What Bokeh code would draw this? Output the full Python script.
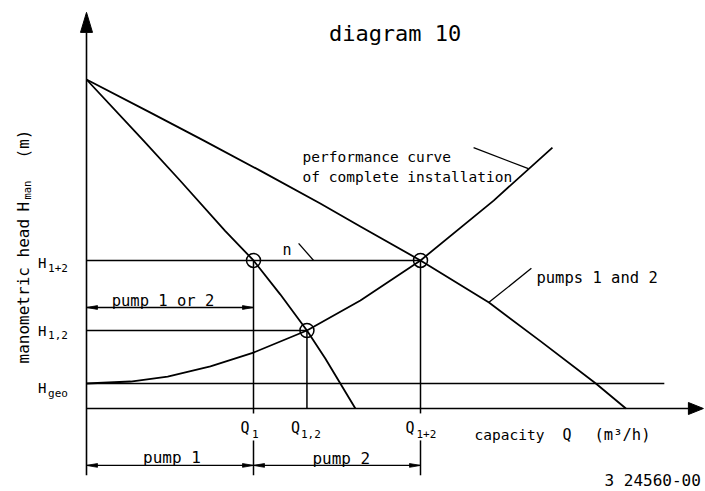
import math

from bokeh.core.properties import value
from bokeh.embed import file_html
from bokeh.models import Range1d
from bokeh.plotting import figure
from bokeh.resources import INLINE

# Schematic units: capacity Q scaled so that Q(1+2) = 100,
# manometric head scaled so that the shut-off head = 100.

# single pump characteristic ("n")
single_q = [0, 17, 28, 41.5, 50, 58, 66, 71.5, 80.5]
single_h = [100, 81.5, 69.3, 54, 45, 34.7, 23.7, 15.2, 0]

# pumps 1 and 2 running in parallel
parallel_q = [0, 19, 35, 52, 70, 82, 100, 120.5, 136, 152.5, 161.5]
parallel_h = [100, 90, 81.5, 72.3, 62.3, 55.3, 45, 32.2, 20.4, 7.6, 0]

# performance curve of the complete installation (system curve)
system_q = [0, 13.2, 24.3, 37.1, 50, 66, 82, 100, 121.9, 139.5]
system_h = [7.6, 8.2, 9.7, 12.8, 17.0, 23.7, 32.8, 45.0, 63.2, 79.3]

# operating points
H_GEO = 7.6
H_PAR = 45.0     # H 1+2
H_ONE = 23.7     # H 1,2
Q_ONE = 50       # Q 1
Q_SYS1 = 66      # Q 1,2
Q_PAR = 100      # Q 1+2

op_q = [Q_ONE, Q_SYS1, Q_PAR]
op_h = [H_PAR, H_ONE, H_PAR]

# axis extents
Q_END = 184.7
H_END = 120.4
H_LOW = -20.3
HGEO_END = 173

PX_Q = 3.34   # pixels per capacity unit
PX_H = 3.29   # pixels per head unit

FONT = value("DejaVu Sans Mono")
INK = "#000000"

p = figure(width=705, height=491,
           x_range=Range1d(-86 / PX_Q, 619 / PX_Q),
           y_range=Range1d(-83 / PX_H, 408 / PX_H),
           output_backend="svg", toolbar_location=None,
           x_axis_location=None, y_axis_location=None,
           min_border=0, background_fill_color="white",
           border_fill_color="white")
p.outline_line_color = None
p.grid.visible = False

# --- axes -----------------------------------------------------------------
p.segment(x0=[0, 0], y0=[H_LOW, 0], x1=[0, Q_END - 15 / PX_Q],
          y1=[H_END - 20 / PX_H, 0], line_color=INK, line_width=1.6)
ax_w_q = 6 / PX_Q
ax_w_h = 6 / PX_H
p.patches(xs=[[0, -ax_w_q, ax_w_q],
              [Q_END, Q_END - 15 / PX_Q, Q_END - 15 / PX_Q]],
          ys=[[H_END, H_END - 20 / PX_H, H_END - 20 / PX_H],
              [0, ax_w_h, -ax_w_h]],
          fill_color=INK, line_color=INK, line_width=1)

# --- reference lines -------------------------------------------------------
gap_top = -1.5
gap_bot = -9.7
p.segment(x0=[0, 0, 0, Q_ONE, Q_ONE, Q_SYS1, Q_PAR, Q_PAR],
          y0=[H_PAR, H_ONE, H_GEO, H_PAR, gap_bot, H_ONE, H_PAR, gap_bot],
          x1=[Q_PAR, Q_SYS1, HGEO_END, Q_ONE, Q_ONE, Q_SYS1, Q_PAR, Q_PAR],
          y1=[H_PAR, H_ONE, H_GEO, gap_top, H_LOW, 0, gap_top, H_LOW],
          line_color=INK, line_width=1.5)

# --- curves ---------------------------------------------------------------
p.line(single_q, single_h, line_color=INK, line_width=1.8, line_join="round")
p.line(parallel_q, parallel_h, line_color=INK, line_width=1.8, line_join="round")
p.line(system_q, system_h, line_color=INK, line_width=1.8, line_join="round")

p.scatter(op_q, op_h, marker="circle", size=14, fill_color=None,
          line_color=INK, line_width=1.5)

# --- dimension lines --------------------------------------------------------
H_DIM_TOP = 30.7
H_DIM_BOT = -17.3
dims = [(0, Q_ONE, H_DIM_TOP), (0, Q_ONE, H_DIM_BOT), (Q_ONE, Q_PAR, H_DIM_BOT)]
p.segment(x0=[d[0] for d in dims], y0=[d[2] for d in dims],
          x1=[d[1] for d in dims], y1=[d[2] for d in dims],
          line_color=INK, line_width=1.4)
a_len = 11 / PX_Q
a_w = 1.9 / PX_H
hx, hy = [], []
for q0, q1, h in dims:
    hx += [[q0, q0 + a_len, q0 + a_len], [q1, q1 - a_len, q1 - a_len]]
    hy += [[h, h + a_w, h - a_w], [h, h + a_w, h - a_w]]
p.patches(xs=hx, ys=hy, fill_color=INK, line_color=INK, line_width=0.8)

# --- leader lines -------------------------------------------------------------
p.segment(x0=[115.9, 63.5, 133.2], y0=[79.3, 50.2, 42.6],
          x1=[132.3, 68.0, 120.4], y1=[72.9, H_PAR, 32.2],
          line_color=INK, line_width=1.3)


# --- texts ---------------------------------------------------------------
def label(x, y, txt, size, align="left", angle=0.0, dx=0, dy=0):
    p.text(x=[x], y=[y], text=[txt], text_font=FONT,
           text_font_size=f"{size}px", text_align=align,
           text_baseline="alphabetic", angle=angle,
           x_offset=dx, y_offset=dy, text_color=INK)


label(92.4, 114.0, "diagram 10", 22, align="center")
label(64.7, 76.4, "performance curve", 14.5)
label(64.7, 70.5, "of complete installation", 14.5)
label(58.7, 48.3, "n", 15)
label(134.7, 39.8, "pumps 1 and 2", 15.5)
label(22.9, 32.8, "pump 1 or 2", 15.5, align="center")
label(25.6, -14.9, "pump 1", 16, align="center")
label(76.3, -15.2, "pump 2", 16, align="center")
label(116.2, -8.2, "capacity", 14.5)
label(142.5, -8.2, "Q", 15)
label(152.1, -8.2, "(m³/h)", 15.5)
label(155.1, -21.9, "3 24560-00", 16)

# head labels at the left of the ordinate
H_TXT_X = -12.0
SUB_TXT_X = -11.5
for h, sub, dy_main, dy_sub in [(H_PAR, "1+2", 2.5, 8),
                                (H_ONE, "1,2", 0, 4.5),
                                (H_GEO, "geo", 4.5, 10)]:
    label(H_TXT_X, h, "H", 14, align="right", dy=dy_main)
    label(SUB_TXT_X, h, sub, 11, dy=dy_sub)

# capacity labels under the abscissa
for q, sub, dx_main, dx_sub in [(Q_ONE, "1", -4, -1.5),
                                (Q_SYS1, "1,2", -7, -6),
                                (Q_PAR, "1+2", -6, -4)]:
    label(q, 0, "Q", 15, align="right", dx=dx_main, dy=19)
    label(q, 0, sub, 11, dx=dx_sub, dy=25)

# rotated ordinate title
up = math.pi / 2
label(-18.9, 13.7, "manometric head", 16, angle=up)
label(-18.9, 59.9, "H", 16, angle=up)
label(-17.96, 63.5, "man", 10.5, angle=up)
label(-18.9, 84.8, "(m)", 16, align="right", angle=up)

open("out.html", "w").write(file_html(p, INLINE))
